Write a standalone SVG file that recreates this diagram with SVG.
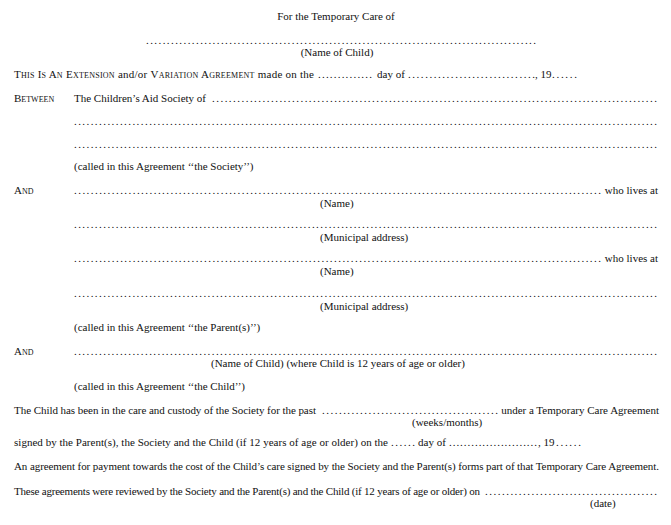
<svg xmlns="http://www.w3.org/2000/svg" width="671" height="525" viewBox="0 0 671 525">
<style>
text{font-family:"Liberation Serif","Times New Roman",serif;font-size:11px;fill:#111}
.sc{font-variant:small-caps}
.c{text-anchor:middle}
.e{text-anchor:end}
</style>
<rect width="671" height="525" fill="#fff"/>
<g id="header">
<text class="c" x="336" y="20">For the Temporary Care of</text>
<text x="146" y="44" textLength="390">..............................................................................................</text>
<text class="c" x="337" y="56">(Name of Child)</text>
</g>
<g id="made-on">
<text x="14" y="78" textLength="300"><tspan class="sc">This Is An Extension</tspan> and/or <tspan class="sc">Variation Agreement</tspan> made on the</text>
<text x="318" y="78" textLength="54">..............</text>
<text x="377" y="78">day of</text>
<text x="408" y="78" textLength="127">..............................</text>
<text x="535" y="78">, 19</text>
<text x="552" y="78" textLength="25">......</text>
</g>
<g id="society">
<text class="sc" x="14" y="102">Between</text>
<text x="74" y="102">The Children’s Aid Society of</text>
<text x="212" y="102" textLength="445">..........................................................................................................</text>
<text x="74" y="125" textLength="583">............................................................................................................................................</text>
<text x="74" y="148" textLength="583">............................................................................................................................................</text>
<text x="74" y="170">(called in this Agreement ‘‘the Society’’)</text>
</g>
<g id="parents">
<text class="sc" x="14" y="194">And</text>
<text x="74" y="194" textLength="527">..............................................................................................................................</text>
<text class="e" x="658" y="194">who lives at</text>
<text x="320" y="207">(Name)</text>
<text x="74" y="228" textLength="583">............................................................................................................................................</text>
<text x="320" y="241">(Municipal address)</text>
<text x="74" y="262" textLength="527">..............................................................................................................................</text>
<text class="e" x="658" y="262">who lives at</text>
<text x="320" y="275">(Name)</text>
<text x="74" y="297" textLength="583">............................................................................................................................................</text>
<text x="320" y="310">(Municipal address)</text>
<text x="74" y="331">(called in this Agreement ‘‘the Parent(s)’’)</text>
</g>
<g id="child">
<text class="sc" x="14" y="355">And</text>
<text x="74" y="355" textLength="583">............................................................................................................................................</text>
<text x="211" y="367">(Name of Child) (where Child is 12 years of age or older)</text>
<text x="74" y="390">(called in this Agreement ‘‘the Child’’)</text>
</g>
<g id="terms">
<text x="14" y="414" textLength="302">The Child has been in the care and custody of the Society for the past</text>
<text x="322" y="414" textLength="176">..........................................</text>
<text class="e" x="659" y="414">under a Temporary Care Agreement</text>
<text x="412" y="426">(weeks/months)</text>
<text x="14" y="446" textLength="374">signed by the Parent(s), the Society and the Child (if 12 years of age or older) on the</text>
<text x="391" y="446" textLength="24">......</text>
<text x="418" y="446">day of</text>
<text x="449" y="446" textLength="88">........................</text>
<text x="538" y="446">, 19</text>
<text x="556" y="446" textLength="25">......</text>
<text x="14" y="470" textLength="645">An agreement for payment towards the cost of the Child’s care signed by the Society and the Parent(s) forms part of that Temporary Care Agreement.</text>
<text x="14" y="495" textLength="466">These agreements were reviewed by the Society and the Parent(s) and the Child (if 12 years of age or older) on</text>
<text x="485" y="495" textLength="172">.........................................</text>
<text x="590" y="507">(date)</text>
</g>
</svg>
